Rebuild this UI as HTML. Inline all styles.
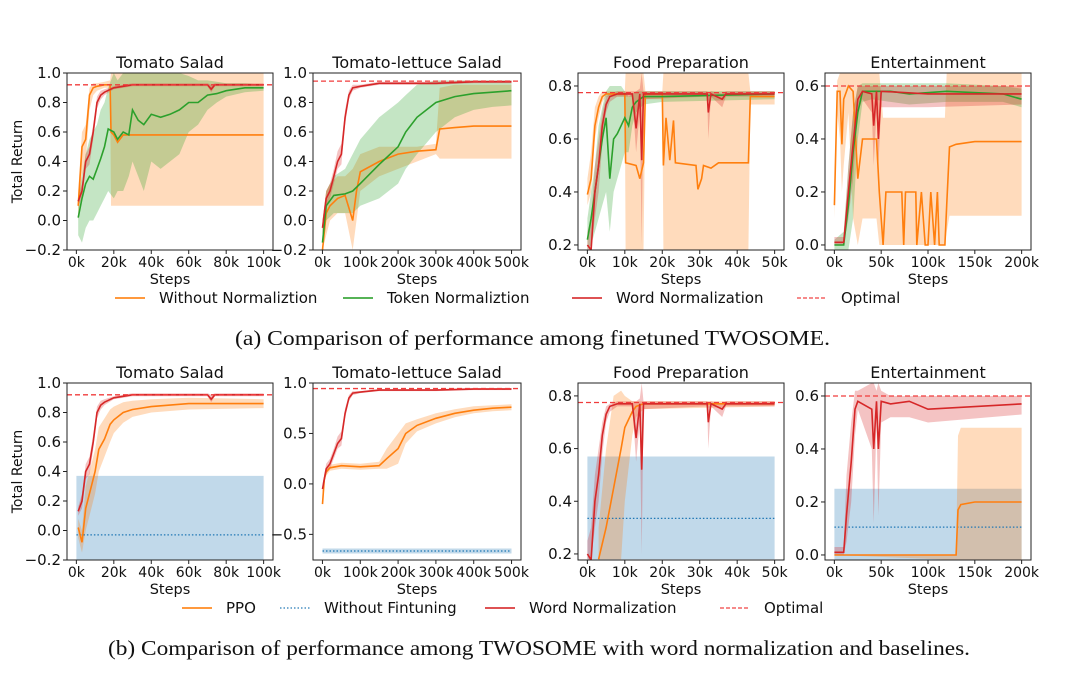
<!DOCTYPE html>
<html><head><meta charset="utf-8"><style>
html,body{margin:0;padding:0;background:#fff}
svg{display:block}
text{font-family:"DejaVu Sans","Liberation Sans",sans-serif}
.cap{font-family:"Liberation Serif",serif}
</style></head><body>
<svg id="fig" width="1080" height="676" viewBox="0 0 1080 676" xmlns="http://www.w3.org/2000/svg"></svg>
<script>
// ---- data: [step(k), mean, lo, hi] ----
const aSaladNoNorm=[[1,0.1,0.0,0.2],[3,0.5,0.3,0.6],[5,0.55,0.4,0.65],[7,0.85,0.75,0.9],[9,0.9,0.85,0.93],[11,0.91,0.88,0.93],[15,0.92,0.9,0.94],[18,0.92,0.9,0.95],[18.5,0.6,0.1,1.0],[20,0.58,0.1,1.0],[22,0.53,0.1,1.0],[25,0.58,0.1,1.0],[30,0.58,0.1,1.0],[50,0.58,0.1,1.0],[70,0.58,0.1,1.0],[100,0.58,0.1,1.0]];
const aSaladToken=[[1,0.02,-0.1,0.15],[3,0.15,-0.15,0.3],[5,0.25,-0.05,0.45],[7,0.3,0.0,0.55],[9,0.28,0.0,0.6],[11,0.35,0.05,0.65],[13,0.42,0.1,0.75],[15,0.5,0.15,0.8],[17,0.62,0.2,0.9],[20,0.6,0.15,1.0],[22,0.55,0.2,0.95],[25,0.6,0.2,1.0],[28,0.58,0.3,1.0],[30,0.75,0.4,1.0],[33,0.68,0.3,1.0],[36,0.65,0.2,1.0],[40,0.72,0.4,1.0],[45,0.7,0.35,1.0],[50,0.72,0.4,1.0],[55,0.75,0.45,1.0],[60,0.8,0.6,0.98],[65,0.8,0.65,0.95],[70,0.85,0.75,0.95],[75,0.86,0.8,0.94],[80,0.88,0.84,0.93],[90,0.9,0.87,0.93],[100,0.9,0.88,0.92]];
const aSaladWord=[[1,0.13,0.1,0.16],[3,0.2,0.15,0.25],[5,0.4,0.35,0.45],[7,0.45,0.38,0.5],[9,0.6,0.55,0.65],[11,0.8,0.76,0.84],[13,0.85,0.82,0.88],[15,0.87,0.85,0.89],[20,0.9,0.89,0.91],[25,0.91,0.9,0.92],[30,0.92,0.91,0.93],[70,0.92,0.91,0.93],[72,0.89,0.87,0.92],[74,0.92,0.91,0.93],[100,0.92,0.91,0.93]];
const aLettuceNoNorm=[[0,-0.2,-0.3,0.0],[10,0.05,-0.1,0.2],[20,0.1,0.0,0.25],[40,0.15,0.05,0.3],[60,0.17,0.05,0.3],[80,0.0,-0.2,0.35],[90,0.2,0.0,0.4],[100,0.33,0.2,0.45],[150,0.4,0.3,0.5],[200,0.45,0.35,0.5],[250,0.47,0.4,0.5],[300,0.48,0.45,0.52],[310,0.62,0.42,0.9],[350,0.63,0.42,0.92],[400,0.64,0.42,0.92],[500,0.64,0.42,0.92]];
const aLettuceToken=[[0,-0.15,-0.2,0.0],[10,0.1,0.0,0.2],[30,0.17,0.05,0.3],[60,0.18,0.05,0.35],[80,0.2,0.05,0.45],[100,0.25,0.1,0.55],[150,0.38,0.15,0.7],[200,0.5,0.25,0.8],[220,0.6,0.35,0.85],[250,0.7,0.45,0.92],[300,0.8,0.6,0.95],[350,0.84,0.7,0.95],[400,0.86,0.75,0.95],[450,0.87,0.77,0.95],[500,0.88,0.78,0.95]];
const aLettuceWord=[[0,-0.05,-0.1,0.0],[10,0.15,0.1,0.2],[20,0.2,0.15,0.25],[30,0.3,0.25,0.35],[40,0.4,0.35,0.47],[50,0.45,0.38,0.52],[60,0.7,0.65,0.75],[70,0.85,0.82,0.88],[80,0.9,0.88,0.92],[100,0.91,0.9,0.92],[150,0.93,0.92,0.94],[300,0.93,0.92,0.94],[400,0.94,0.93,0.95],[500,0.94,0.93,0.95]];
const aFoodNoNorm=[[0,0.39,0.35,0.45],[1,0.45,0.4,0.55],[2,0.65,0.6,0.72],[3,0.72,0.68,0.76],[4,0.76,0.74,0.78],[5,0.77,0.76,0.78],[10,0.77,0.76,0.78],[10.2,0.51,0.18,0.85],[13,0.5,0.18,0.85],[14,0.45,0.18,0.85],[15,0.51,0.18,0.85],[15.5,0.77,0.75,0.78],[20,0.77,0.75,0.78],[20.3,0.5,0.18,0.85],[21,0.68,0.18,0.85],[22,0.52,0.18,0.85],[23,0.67,0.18,0.85],[23.5,0.51,0.18,0.85],[29,0.5,0.18,0.85],[29.5,0.41,0.18,0.85],[30.5,0.45,0.18,0.85],[31,0.5,0.18,0.85],[33,0.49,0.18,0.85],[35,0.51,0.18,0.85],[43,0.51,0.18,0.85],[43.5,0.76,0.73,0.78],[50,0.76,0.73,0.78]];
const aFoodToken=[[0,0.22,0.18,0.3],[1,0.3,0.2,0.4],[2,0.4,0.25,0.5],[3,0.5,0.3,0.65],[4,0.6,0.35,0.72],[5,0.68,0.4,0.78],[6,0.45,0.25,0.8],[7,0.6,0.4,0.8],[8,0.62,0.45,0.8],[9,0.65,0.5,0.8],[10,0.68,0.55,0.78],[11,0.65,0.55,0.76],[12,0.72,0.65,0.77],[13,0.74,0.7,0.78],[15,0.76,0.73,0.78],[20,0.76,0.74,0.78],[50,0.77,0.75,0.78]];
const aFoodWord=[[0,0.2,0.18,0.25],[1,0.15,0.12,0.3],[2,0.4,0.3,0.5],[3,0.5,0.4,0.6],[4,0.65,0.58,0.7],[5,0.73,0.7,0.76],[6,0.76,0.74,0.77],[8,0.77,0.76,0.78],[12,0.77,0.76,0.78],[13,0.64,0.55,0.78],[14,0.77,0.7,0.79],[14.5,0.52,0.2,0.85],[15,0.77,0.75,0.78],[32,0.77,0.76,0.78],[32.3,0.7,0.6,0.77],[33,0.77,0.76,0.78],[36,0.75,0.72,0.77],[37,0.77,0.76,0.78],[50,0.77,0.76,0.78]];
const aEntNoNorm=[[0,0.15,0.1,0.2],[3,0.58,0.5,0.62],[6,0.58,0.4,0.65],[8,0.38,0.2,0.65],[10,0.55,0.3,0.65],[15,0.6,0.5,0.65],[20,0.58,0.1,0.65],[25,0.25,0.0,0.65],[30,0.4,0.1,0.65],[45,0.4,0.1,0.65],[48,0.2,0.0,0.65],[52,0.0,0.0,0.48],[55,0.2,0.0,0.48],[72,0.2,0.0,0.48],[74,0.0,0.0,0.48],[76,0.2,0.0,0.48],[87,0.2,0.0,0.48],[88,0.0,0.0,0.48],[93,0.2,0.0,0.48],[97,0.0,0.0,0.48],[100,0.0,0.0,0.48],[103,0.2,0.0,0.48],[107,0.0,0.0,0.48],[110,0.2,0.0,0.48],[112,0.0,0.0,0.48],[118,0.0,0.0,0.48],[120,0.15,0.05,0.65],[123,0.37,0.11,0.65],[130,0.38,0.11,0.65],[150,0.39,0.11,0.65],[200,0.39,0.11,0.65]];
const aEntToken=[[0,0.0,-0.02,0.02],[10,0.0,-0.02,0.05],[15,0.15,-0.02,0.3],[20,0.35,0.1,0.5],[25,0.5,0.4,0.6],[30,0.58,0.54,0.61],[40,0.58,0.55,0.61],[60,0.58,0.54,0.61],[80,0.57,0.53,0.61],[120,0.58,0.54,0.61],[180,0.57,0.54,0.6],[200,0.55,0.52,0.59]];
const aEntWord=[[0,0.01,0.0,0.03],[10,0.01,0.0,0.03],[15,0.2,0.1,0.3],[20,0.38,0.25,0.5],[25,0.55,0.5,0.6],[30,0.58,0.55,0.6],[40,0.57,0.5,0.6],[42,0.45,0.3,0.6],[45,0.58,0.5,0.6],[47,0.4,0.3,0.6],[50,0.58,0.52,0.6],[100,0.57,0.52,0.6],[200,0.57,0.53,0.6]];
const bSaladPPO=[[1,0.02,-0.05,0.08],[3,-0.08,-0.15,0.0],[5,0.15,0.0,0.3],[7,0.25,0.1,0.4],[10,0.4,0.25,0.55],[12,0.55,0.4,0.7],[15,0.62,0.5,0.76],[18,0.72,0.6,0.82],[20,0.75,0.66,0.84],[25,0.8,0.73,0.87],[30,0.82,0.77,0.88],[40,0.84,0.8,0.89],[60,0.86,0.82,0.9],[100,0.86,0.83,0.89]];
const bSaladBase=[[0,-0.03,-0.2,0.37],[100,-0.03,-0.2,0.37]];
const bLettucePPO=[[0,-0.2,-0.22,-0.15],[5,0.05,0.0,0.1],[10,0.12,0.08,0.16],[20,0.16,0.13,0.19],[50,0.18,0.15,0.21],[100,0.17,0.14,0.2],[150,0.18,0.15,0.22],[170,0.25,0.15,0.35],[200,0.35,0.2,0.5],[220,0.5,0.4,0.6],[250,0.58,0.52,0.64],[300,0.65,0.6,0.7],[350,0.7,0.66,0.74],[400,0.73,0.7,0.77],[450,0.75,0.72,0.78],[500,0.76,0.73,0.79]];
const bLettuceBase=[[0,-0.665,-0.69,-0.64],[500,-0.665,-0.69,-0.64]];
const bFoodPPO=[[3,0.18,0.18,0.3],[5,0.3,0.18,0.6],[7,0.45,0.18,0.8],[9,0.6,0.18,0.82],[10,0.68,0.4,0.8],[12,0.74,0.65,0.78],[13,0.76,0.72,0.78],[15,0.77,0.75,0.78],[50,0.77,0.76,0.78]];
const bFoodBase=[[0,0.335,0.18,0.57],[50,0.335,0.18,0.57]];
const bEntPPO=[[0,0.0,0.0,0.0],[130,0.0,-0.02,0.0],[132,0.17,-0.02,0.45],[135,0.19,-0.02,0.48],[150,0.2,-0.02,0.48],[200,0.2,-0.02,0.48]];
const bEntBase=[[0,0.105,-0.02,0.25],[200,0.105,-0.02,0.25]];
const bEntWord=[[0,0.01,0.0,0.03],[10,0.01,0.0,0.03],[13,0.15,0.05,0.3],[18,0.35,0.2,0.5],[22,0.55,0.45,0.62],[25,0.58,0.55,0.62],[40,0.55,0.4,0.65],[42,0.4,0.12,0.65],[45,0.58,0.5,0.62],[47,0.4,0.15,0.65],[50,0.58,0.5,0.62],[60,0.57,0.52,0.6],[80,0.58,0.52,0.6],[100,0.55,0.5,0.6],[200,0.57,0.53,0.6]];
const optimals=[0.92,0.945,0.775,0.6];
const titles=["Tomato Salad","Tomato-lettuce Salad","Food Preparation","Entertainment"];
const xMaxes=[100,500,50,200];
const xTicksA=[[0,20,40,60,80,100],[0,100,200,300,400,500],[0,10,20,30,40,50],[0,50,100,150,200]];
const yTicksTop=[[-0.2,0,0.2,0.4,0.6,0.8,1.0],[-0.2,0,0.2,0.4,0.6,0.8,1.0],[0.2,0.4,0.6,0.8],[0,0.2,0.4,0.6]];
const yTicksBot=[[-0.2,0,0.2,0.4,0.6,0.8,1.0],[-0.5,0,0.5,1.0],[0.2,0.4,0.6,0.8],[0,0.2,0.4,0.6]];
const yLimTop=[[-0.2,1.0],[-0.2,1.0],[0.181,0.849],[-0.019,0.649]];
const yLimBot=[[-0.2,1.0],[-0.754,1.0],[0.177,0.849],[-0.019,0.649]];

const C={o:'#ff7f0e',g:'#2ca02c',r:'#d62728',b:'#1f77b4'};
const svg=document.getElementById('fig');
const NS='http://www.w3.org/2000/svg';
function mk(tag,attrs,parent){const e=document.createElementNS(NS,tag);for(const k in attrs)e.setAttribute(k,attrs[k]);(parent||svg).appendChild(e);return e;}
const boxX=[[67,273],[313,521],[578,784],[825,1031]];
function fmtY(v){if(Math.abs(v)<1e-9)return '0.0';const s=(Math.abs(v)).toFixed(1);return (v<0?'\u2212':'')+s;}
function panel(row,i,series){
  const top=row===0?73:383,bot=row===0?250:560;
  const [x0,x1]=boxX[i];const w=x1-x0;const m=w/22;
  const lim=row===0?yLimTop[i]:yLimBot[i];
  const yt=row===0?yTicksTop[i]:yTicksBot[i];
  const sx=v=>x0+m+(v/xMaxes[i])*(w-2*m);
  const sy=v=>{const c=Math.max(lim[0],Math.min(lim[1],v));return bot-(c-lim[0])/(lim[1]-lim[0])*(bot-top);};
  const g=mk('g',{});
  
  
  const cid='clip'+row+i;
  const cp=mk('clipPath',{id:cid},g);mk('rect',{x:x0,y:top,width:w,height:bot-top},cp);
  const pg=mk('g',{'clip-path':'url(#'+cid+')'},g);
  series.forEach(s=>{
    const d=s.data;
    let up=d.map(p=>sx(p[0]).toFixed(1)+','+sy(p[3]).toFixed(1));
    let lo=d.slice().reverse().map(p=>sx(p[0]).toFixed(1)+','+sy(p[2]).toFixed(1));
    const band=mk('polygon',{points:up.concat(lo).join(' '),fill:s.c,'fill-opacity':0.28,stroke:'none'},pg);
    
    
  });
  series.forEach(s=>{
    const pts=s.data.map(p=>sx(p[0]).toFixed(1)+','+sy(p[1]).toFixed(1)).join(' ');
    const ln=mk('polyline',{points:pts,fill:'none',stroke:s.c,'stroke-width':s.dot?1.3:1.6,'stroke-dasharray':s.dot?'1.5,2':'none'},pg);
    
    
  });
  const op=mk('line',{x1:x0,x2:x1,y1:sy(optimals[i]),y2:sy(optimals[i]),stroke:'#f03c3c','stroke-width':1.3,'stroke-dasharray':'5,3'},g);
  
  
  mk('rect',{x:x0,y:top,width:w,height:bot-top,fill:'none',stroke:'#222','stroke-width':1},g);
  xTicksA[i].forEach(v=>{const X=sx(v);mk('line',{x1:X,x2:X,y1:bot,y2:bot+4,stroke:'#222'},g);
    const t=mk('text',{x:X,y:bot+17,'font-size':14,'text-anchor':'middle',fill:'#111'},g);t.textContent=v+'k';
    });
  yt.forEach(v=>{const Y=sy(v);mk('line',{x1:x0-4,x2:x0,y1:Y,y2:Y,stroke:'#222'},g);
    const t=mk('text',{x:x0-6,y:Y+5,'font-size':15,'text-anchor':'end',fill:'#111'},g);t.textContent=fmtY(v);
    });
  const ti=mk('text',{x:(x0+x1)/2,y:top-5,'font-size':16,'text-anchor':'middle',fill:'#111'},g);ti.textContent=titles[i];
  
  const xl=mk('text',{x:(x0+x1)/2,y:bot+34,'font-size':14.5,'text-anchor':'middle',fill:'#111'},g);xl.textContent='Steps';
  
  if(i===0){const yl=mk('text',{x:0,y:0,'font-size':14,'text-anchor':'middle',fill:'#111',transform:'translate(22,'+((top+bot)/2)+') rotate(-90)'},g);yl.textContent='Total Return';
    }
}
const S=(name,data,c,dot)=>({name,data,c,dot});
panel(0,0,[S('without-norm',aSaladNoNorm,C.o),S('token-norm',aSaladToken,C.g),S('word-norm',aSaladWord,C.r)]);
panel(0,1,[S('without-norm',aLettuceNoNorm,C.o),S('token-norm',aLettuceToken,C.g),S('word-norm',aLettuceWord,C.r)]);
panel(0,2,[S('without-norm',aFoodNoNorm,C.o),S('token-norm',aFoodToken,C.g),S('word-norm',aFoodWord,C.r)]);
panel(0,3,[S('without-norm',aEntNoNorm,C.o),S('token-norm',aEntToken,C.g),S('word-norm',aEntWord,C.r)]);
panel(1,0,[S('without-finetuning',bSaladBase,C.b,true),S('ppo',bSaladPPO,C.o),S('word-norm',aSaladWord,C.r)]);
panel(1,1,[S('without-finetuning',bLettuceBase,C.b,true),S('ppo',bLettucePPO,C.o),S('word-norm',aLettuceWord,C.r)]);
panel(1,2,[S('without-finetuning',bFoodBase,C.b,true),S('ppo',bFoodPPO,C.o),S('word-norm',aFoodWord,C.r)]);
panel(1,3,[S('without-finetuning',bEntBase,C.b,true),S('ppo',bEntPPO,C.o),S('word-norm',bEntWord,C.r)]);
function legend(y,items){items.forEach(it=>{
  const g=mk('g',{});
  mk('line',{x1:it[0],x2:it[0]+30,y1:y,y2:y,stroke:it[2],'stroke-width':it[3]?1.5:2,'stroke-dasharray':it[3]||'none','stroke-opacity':0.8},g);
  const t=mk('text',{x:it[0]+44,y:y+5,'font-size':15,fill:'#111'},g);t.textContent=it[1];});}
legend(298,[[115,'Without Normaliztion',C.o],[343,'Token Normaliztion',C.g],[572,'Word Normalization',C.r],[797,'Optimal','#f03c3c','4,2']]);
legend(608,[[182,'PPO',C.o],[280,'Without Fintuning',C.b,'1.5,2'],[485,'Word Normalization',C.r],[720,'Optimal','#f03c3c','4,2']]);
const c1=mk('text',{x:235,y:345,'font-size':21,fill:'#111',class:'cap',textLength:595,lengthAdjust:'spacingAndGlyphs'});c1.textContent='(a) Comparison of performance among finetuned TWOSOME.';

const c2=mk('text',{x:108,y:655,'font-size':21,fill:'#111',class:'cap',textLength:862,lengthAdjust:'spacingAndGlyphs'});c2.textContent='(b) Comparison of performance among TWOSOME with word normalization and baselines.';

</script>
</body></html>
